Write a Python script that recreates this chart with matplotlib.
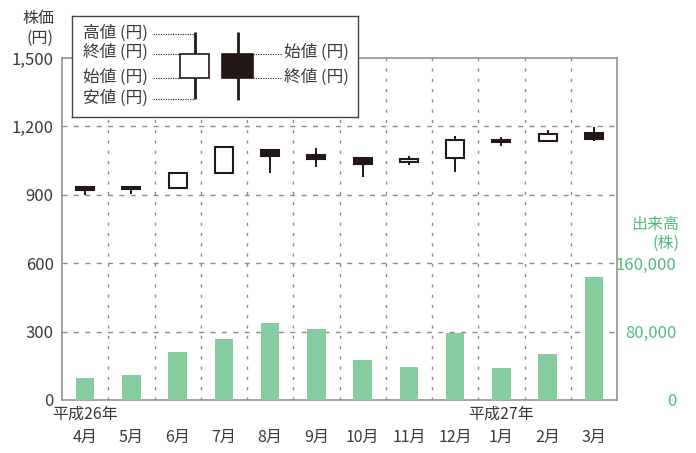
import matplotlib
matplotlib.use('Agg')
import matplotlib.pyplot as plt
from matplotlib.patches import Rectangle

plt.rcParams['font.family'] = ['Noto Sans CJK JP', 'DejaVu Sans']

# monthly stock data (price in yen, volume in shares)
months = ['4月', '5月', '6月', '7月', '8月', '9月', '10月', '11月', '12月', '1月', '2月', '3月']
open_p = [935, 934, 930, 996, 1095, 1073, 1060, 1042, 1060, 1142, 1134, 1170]
high_p = [937, 935, 1002, 1116, 1102, 1104, 1063, 1071, 1156, 1153, 1184, 1199]
low_p = [900, 903, 930, 996, 996, 1024, 980, 1030, 1000, 1114, 1134, 1136]
close_p = [922, 925, 996, 1108, 1070, 1057, 1033, 1058, 1142, 1132, 1165, 1144]
volume = [25900, 29400, 56500, 71800, 90600, 83500, 47000, 38800, 78800, 37600, 54100, 143500]

price_ticks = [0, 300, 600, 900, 1200, 1500]
price_labels = ['0', '300', '600', '900', '1,200', '1,500']
vol_ticks = [0, 80000, 160000]
vol_labels = ['0', '80,000', '160,000']

ink = '#231815'
gray = '#8a8a8a'
green_bar = '#86cc9e'
green_txt = '#4dbd78'
txt = '#3a3a3a'

fig = plt.figure(figsize=(6.96, 4.53), dpi=100)
ax = fig.add_axes([62 / 696, 53 / 453, 555 / 696, 342 / 453])
ax.set_xlim(-0.5, 11.5)
ax.set_ylim(0, 1500)

# grid
for y in price_ticks[1:-1]:
    ax.axhline(y, color=gray, lw=1.0, linestyle=(0, (3.6, 4.6)), zorder=0.5)
for i in range(len(months) - 1):
    ax.axvline(i + 0.5, color=gray, lw=1.0, linestyle=(0, (2.2, 5.2)), zorder=0.5)

# candlesticks
bw = 0.39
for i in range(len(months)):
    o, h, l, c = open_p[i], high_p[i], low_p[i], close_p[i]
    ax.plot([i, i], [l, h], color=ink, lw=1.4, solid_capstyle='butt', zorder=2)
    fc = 'white' if c >= o else ink
    ax.add_patch(Rectangle((i - bw / 2, min(o, c)), bw, abs(c - o),
                           facecolor=fc, edgecolor=ink, lw=1.5, zorder=3))

for s in ax.spines.values():
    s.set_color(gray)
    s.set_linewidth(1.1)

ax.set_yticks(price_ticks, price_labels)
ax.tick_params(axis='y', length=0, pad=6, labelsize=12, labelcolor=txt)
ax.set_xticks(range(len(months)), months)
ax.tick_params(axis='x', length=0, pad=21, labelsize=11.5, labelcolor=txt)

# volume on secondary axis
ax2 = ax.twinx()
ax2.set_ylim(0, 400000)
ax2.bar(range(len(months)), volume, width=0.4, color=green_bar, zorder=2)
for s in ax2.spines.values():
    s.set_visible(False)
ax2.set_yticks(vol_ticks, vol_labels)
ax2.tick_params(axis='y', length=0, pad=43, labelsize=12, labelcolor=green_txt)
for lab in ax2.get_yticklabels():
    lab.set_horizontalalignment('right')

# axis titles and era labels
fig.text(54 / 696, 1 - 19 / 453, '株価', ha='right', va='center', fontsize=11.5, color=txt)
fig.text(54 / 696, 1 - 38 / 453, '(円)', ha='right', va='center', fontsize=11.5, color=txt)
fig.text(679 / 696, 1 - 225 / 453, '出来高', ha='right', va='center', fontsize=11.5, color=green_txt)
fig.text(679 / 696, 1 - 243 / 453, '(株)', ha='right', va='center', fontsize=11.5, color=green_txt)
ax.text(0, -0.018, '平成26年', transform=ax.get_xaxis_transform(), ha='center', va='top',
        fontsize=11.5, color=txt)
ax.text(9, -0.018, '平成27年', transform=ax.get_xaxis_transform(), ha='center', va='top',
        fontsize=11.5, color=txt)

# explanation box for candle parts
lg = fig.add_axes([72 / 696, 1 - 117 / 453, 286 / 696, 101 / 453])
lg.set_xlim(72, 358)
lg.set_ylim(117, 16)
lg.set_xticks([])
lg.set_yticks([])
for s in lg.spines.values():
    s.set_color('#444444')
    s.set_linewidth(1.0)

lg.plot([194.5, 194.5], [32, 99], color=ink, lw=2.0, solid_capstyle='butt')
lg.add_patch(Rectangle((180, 54), 29, 24, facecolor='white', edgecolor=ink, lw=1.2, zorder=3))
lg.plot([237.5, 237.5], [32, 100], color=ink, lw=2.0, solid_capstyle='butt')
lg.add_patch(Rectangle((222, 54), 31, 24, facecolor=ink, edgecolor=ink, lw=1.2, zorder=3))

dot = dict(color=ink, lw=0.8, linestyle=(0, (1, 1.2)))
left_items = [('高値 (円)', 33, 34, 194), ('終値 (円)', 52, 54, 180),
              ('始値 (円)', 77, 78, 180), ('安値 (円)', 98, 99, 194)]
for label, ty, ly, x_end in left_items:
    lg.text(83, ty, label, ha='left', va='center', fontsize=12, color=txt)
    lg.plot([153, x_end], [ly, ly], **dot)
right_items = [('始値 (円)', 52, 54), ('終値 (円)', 77, 78)]
for label, ty, ly in right_items:
    lg.text(284, ty, label, ha='left', va='center', fontsize=12, color=txt)
    lg.plot([253, 281], [ly, ly], **dot)

fig.savefig('out.png', dpi=100)
